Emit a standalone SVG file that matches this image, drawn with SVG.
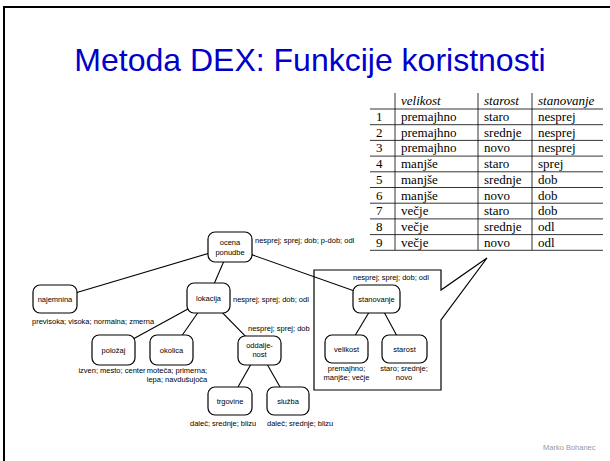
<svg xmlns="http://www.w3.org/2000/svg" width="610" height="461" viewBox="0 0 610 461">
  <style>
    .frame { stroke: #000; stroke-width: 2; fill: none; }
    .title { font-family: "Liberation Sans", Arial, sans-serif; font-size: 32px; fill: #0000cc; text-anchor: middle; }
    .node rect { fill: #fff; stroke: #000; stroke-width: 1.2; }
    .node text, .lbl { font-family: "Liberation Sans", Arial, sans-serif; font-size: 7.5px; fill: #000; }
    .node text { text-anchor: middle; }
    .mid { text-anchor: middle; }
    .edge line { stroke: #000; stroke-width: 1.1; }
    .grid line { stroke: #000; stroke-width: 0.8; }
    .cell { font-family: "Liberation Serif", "Times New Roman", serif; font-size: 13px; fill: #000; }
    .hdr { font-style: italic; }
    .callout { fill: none; stroke: #000; stroke-width: 1.2; }
    .author { font-family: "Liberation Sans", Arial, sans-serif; font-size: 7.5px; fill: #999; }
  </style>

  <!-- slide frame: top and left edges -->
  <path class="frame" d="M610,7 H4 V461"/>

  <text class="title" x="310" y="71">Metoda DEX: Funkcije koristnosti</text>

  <!-- utility function table -->
  <g id="table">
    <g class="grid">
      <line x1="395" y1="93" x2="395" y2="250"/>
      <line x1="478" y1="93" x2="478" y2="250"/>
      <line x1="532" y1="93" x2="532" y2="250"/>
      <line x1="370" y1="109" x2="603" y2="109"/>
      <line x1="370" y1="124.7" x2="603" y2="124.7"/>
      <line x1="370" y1="140.4" x2="603" y2="140.4"/>
      <line x1="370" y1="156.1" x2="603" y2="156.1"/>
      <line x1="370" y1="171.8" x2="603" y2="171.8"/>
      <line x1="370" y1="187.5" x2="603" y2="187.5"/>
      <line x1="370" y1="203.2" x2="603" y2="203.2"/>
      <line x1="370" y1="218.9" x2="603" y2="218.9"/>
      <line x1="370" y1="234.6" x2="603" y2="234.6"/>
      <line x1="370" y1="250.3" x2="603" y2="250.3"/>
    </g>
    <text class="cell hdr" x="401" y="105">velikost</text>
    <text class="cell hdr" x="484" y="105">starost</text>
    <text class="cell hdr" x="538" y="105">stanovanje</text>

    <text class="cell" x="376" y="121">1</text>
    <text class="cell" x="401" y="121">premajhno</text>
    <text class="cell" x="484" y="121">staro</text>
    <text class="cell" x="538" y="121">nesprej</text>

    <text class="cell" x="376" y="136.7">2</text>
    <text class="cell" x="401" y="136.7">premajhno</text>
    <text class="cell" x="484" y="136.7">srednje</text>
    <text class="cell" x="538" y="136.7">nesprej</text>

    <text class="cell" x="376" y="152.4">3</text>
    <text class="cell" x="401" y="152.4">premajhno</text>
    <text class="cell" x="484" y="152.4">novo</text>
    <text class="cell" x="538" y="152.4">nesprej</text>

    <text class="cell" x="376" y="168.1">4</text>
    <text class="cell" x="401" y="168.1">manjše</text>
    <text class="cell" x="484" y="168.1">staro</text>
    <text class="cell" x="538" y="168.1">sprej</text>

    <text class="cell" x="376" y="183.8">5</text>
    <text class="cell" x="401" y="183.8">manjše</text>
    <text class="cell" x="484" y="183.8">srednje</text>
    <text class="cell" x="538" y="183.8">dob</text>

    <text class="cell" x="376" y="199.5">6</text>
    <text class="cell" x="401" y="199.5">manjše</text>
    <text class="cell" x="484" y="199.5">novo</text>
    <text class="cell" x="538" y="199.5">dob</text>

    <text class="cell" x="376" y="215.2">7</text>
    <text class="cell" x="401" y="215.2">večje</text>
    <text class="cell" x="484" y="215.2">staro</text>
    <text class="cell" x="538" y="215.2">dob</text>

    <text class="cell" x="376" y="230.9">8</text>
    <text class="cell" x="401" y="230.9">večje</text>
    <text class="cell" x="484" y="230.9">srednje</text>
    <text class="cell" x="538" y="230.9">odl</text>

    <text class="cell" x="376" y="246.6">9</text>
    <text class="cell" x="401" y="246.6">večje</text>
    <text class="cell" x="484" y="246.6">novo</text>
    <text class="cell" x="538" y="246.6">odl</text>
  </g>

  <!-- callout box around the stanovanje subtree, pointing at the table -->
  <path class="callout" d="M441,290 V270 H314 V390 H441 V320 L487,258 Z"/>

  <!-- connectors (drawn centre to centre, covered by node boxes) -->
  <g id="edges" class="edge">
    <line x1="230" y1="247" x2="55" y2="299"/>
    <line x1="230" y1="247" x2="208" y2="298"/>
    <line x1="230" y1="247" x2="377" y2="299"/>
    <line x1="208" y1="298" x2="113" y2="350"/>
    <line x1="208" y1="298" x2="172" y2="350"/>
    <line x1="208" y1="298" x2="259" y2="350"/>
    <line x1="259" y1="350" x2="230" y2="401"/>
    <line x1="259" y1="350" x2="288" y2="401"/>
    <line x1="377" y1="299" x2="347" y2="349"/>
    <line x1="377" y1="299" x2="404" y2="349"/>
  </g>

  <g id="ocena" class="node">
    <rect x="208" y="232" width="44" height="30" rx="7"/>
    <text x="230" y="245">ocena</text>
    <text x="230" y="255">ponudbe</text>
  </g>
  <text class="lbl" x="255" y="243">nesprej; sprej; dob; p-dob; odl</text>

  <g id="najemnina" class="node">
    <rect x="33" y="285" width="44" height="28" rx="7"/>
    <text x="55" y="302">najemnina</text>
  </g>
  <text class="lbl" x="32" y="324">previsoka; visoka; normalna; zmerna</text>

  <g id="lokacija" class="node">
    <rect x="187" y="283" width="43" height="30" rx="7"/>
    <text x="208.5" y="301">lokacija</text>
  </g>
  <text class="lbl" x="233" y="302">nesprej; sprej; dob; odl</text>

  <g id="polozaj" class="node">
    <rect x="92" y="335" width="43" height="30" rx="7"/>
    <text x="113.5" y="353">položaj</text>
  </g>
  <text class="lbl mid" x="112" y="373">izven; mesto; center</text>

  <g id="okolica" class="node">
    <rect x="150" y="335" width="43" height="30" rx="7"/>
    <text x="171.5" y="353">okolica</text>
  </g>
  <text class="lbl mid" x="177" y="373">moteča; primerna;</text>
  <text class="lbl mid" x="177" y="382">lepa; navdušujoča</text>

  <g id="oddaljenost" class="node">
    <rect x="238" y="336" width="43" height="29" rx="7"/>
    <text x="259.5" y="348">oddalje-</text>
    <text x="259.5" y="357">nost</text>
  </g>
  <text class="lbl" x="248" y="331">nesprej; sprej; dob</text>

  <g id="trgovine" class="node">
    <rect x="208" y="387" width="44" height="28" rx="7"/>
    <text x="230" y="404">trgovine</text>
  </g>
  <text class="lbl" x="190" y="426">daleč; srednje; blizu</text>

  <g id="sluzba" class="node">
    <rect x="267" y="387" width="42" height="28" rx="7"/>
    <text x="288" y="404">služba</text>
  </g>
  <text class="lbl" x="267" y="426">daleč; srednje; blizu</text>

  <g id="stanovanje" class="node">
    <rect x="353" y="285" width="47" height="28" rx="7"/>
    <text x="376.5" y="302">stanovanje</text>
  </g>
  <text class="lbl" x="353" y="280">nesprej; sprej; dob; odl</text>

  <g id="velikost" class="node">
    <rect x="325" y="335" width="43" height="28" rx="7"/>
    <text x="346.5" y="352">velikost</text>
  </g>
  <text class="lbl mid" x="346.5" y="371">premajhno;</text>
  <text class="lbl mid" x="346.5" y="380">manjše; večje</text>

  <g id="starost" class="node">
    <rect x="382" y="335" width="45" height="28" rx="7"/>
    <text x="404.5" y="352">starost</text>
  </g>
  <text class="lbl mid" x="404" y="371">staro; srednje;</text>
  <text class="lbl mid" x="404" y="380">novo</text>

  <text class="author" x="543" y="450">Marko Bohanec</text>
</svg>
